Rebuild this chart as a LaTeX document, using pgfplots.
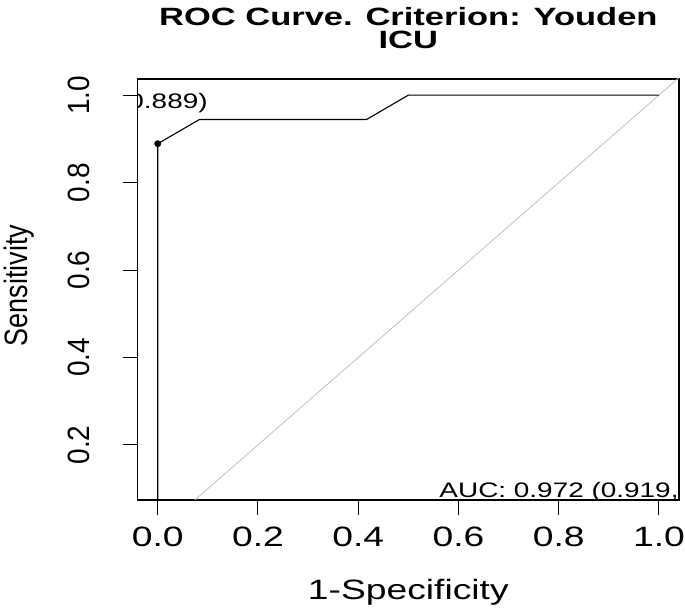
\documentclass[border=0pt]{standalone}
\usepackage{fontspec}
\setmainfont{Liberation Sans}[FakeStretch=1.33]
\newfontfamily\plainsf{Liberation Sans}
\newfontfamily\titlefont{Liberation Sans}[FakeStretch=1.38, UprightFont=*-Bold]
\usepackage{pgfplots}
\pgfplotsset{compat=1.18}
\begin{document}
\begin{tikzpicture}
\path[use as bounding box] (0,0) rectangle (685pt,609pt);
\begin{axis}[
  at={(137.7pt,109pt)}, anchor=south west,
  width=541.3pt, height=421pt, scale only axis,
  xmin=-0.04, xmax=1.04, ymin=0.074, ymax=1.037,
  xtick={0,0.2,0.4,0.6,0.8,1.0},
  ytick={0.2,0.4,0.6,0.8,1.0},
  xtick pos=lower, ytick pos=left,
  tick align=outside, major tick length=15pt,
  every tick/.style={black, line width=1pt},
  axis line style={black, line width=1.1pt},
  scaled ticks=false,
  /pgf/number format/.cd, fixed, fixed zerofill, precision=1, assume math mode=true,
  /pgfplots/.cd,
  xticklabel style={font=\fontsize{28}{28}\selectfont, inner sep=0pt, anchor=north},
  xticklabel shift=12pt,
  yticklabel={\scalebox{1}[1.1]{\plainsf\pgfmathprintnumber{\tick}}},
  yticklabel style={font=\fontsize{28}{28}\selectfont, rotate=90, anchor=south, inner sep=0pt},
  yticklabel shift=32.7pt,
  xlabel={1-Specificity},
  xlabel style={font=\fontsize{28}{28}\selectfont, at={(axis description cs:0.5,0)}, anchor=base, yshift=-100pt, inner sep=0pt},
  ylabel={\scalebox{1}[1.2]{\plainsf Sensitivity}},
  ylabel style={font=\fontsize{27}{27}\selectfont, at={(axis description cs:-0.2027,0.51)}, anchor=base, inner sep=0pt},
  title={ROC Curve. Criterion: Youden\\ICU},
  title style={font=\titlefont\fontsize{25}{23}\selectfont, align=center, at={(axis description cs:0.5,1)}, anchor=south, yshift=24pt, inner sep=0pt},
]
\addplot[gray!50, line width=0.8pt] coordinates {(-0.1,-0.1) (1.1,1.1)};
\addplot[black, line width=1.1pt] coordinates {(0,0) (0,0.8889) (0.0833,0.9444) (0.4167,0.9444) (0.5,1.0) (1.0,1.0)};
\addplot[black, only marks, mark=*, mark size=3.2pt] coordinates {(0,0.8889)};
\node[anchor=east, inner sep=0pt, font=\fontsize{21}{21}\selectfont] at (axis cs:0.100,0.982) {(1.000, 0.889)};
\node[anchor=base west, inner sep=0pt, font=\fontsize{21}{21}\selectfont] at (axis cs:0.5617,0.0786) {AUC: 0.972 (0.919, 1.000)};
\end{axis}
\end{tikzpicture}
\end{document}
